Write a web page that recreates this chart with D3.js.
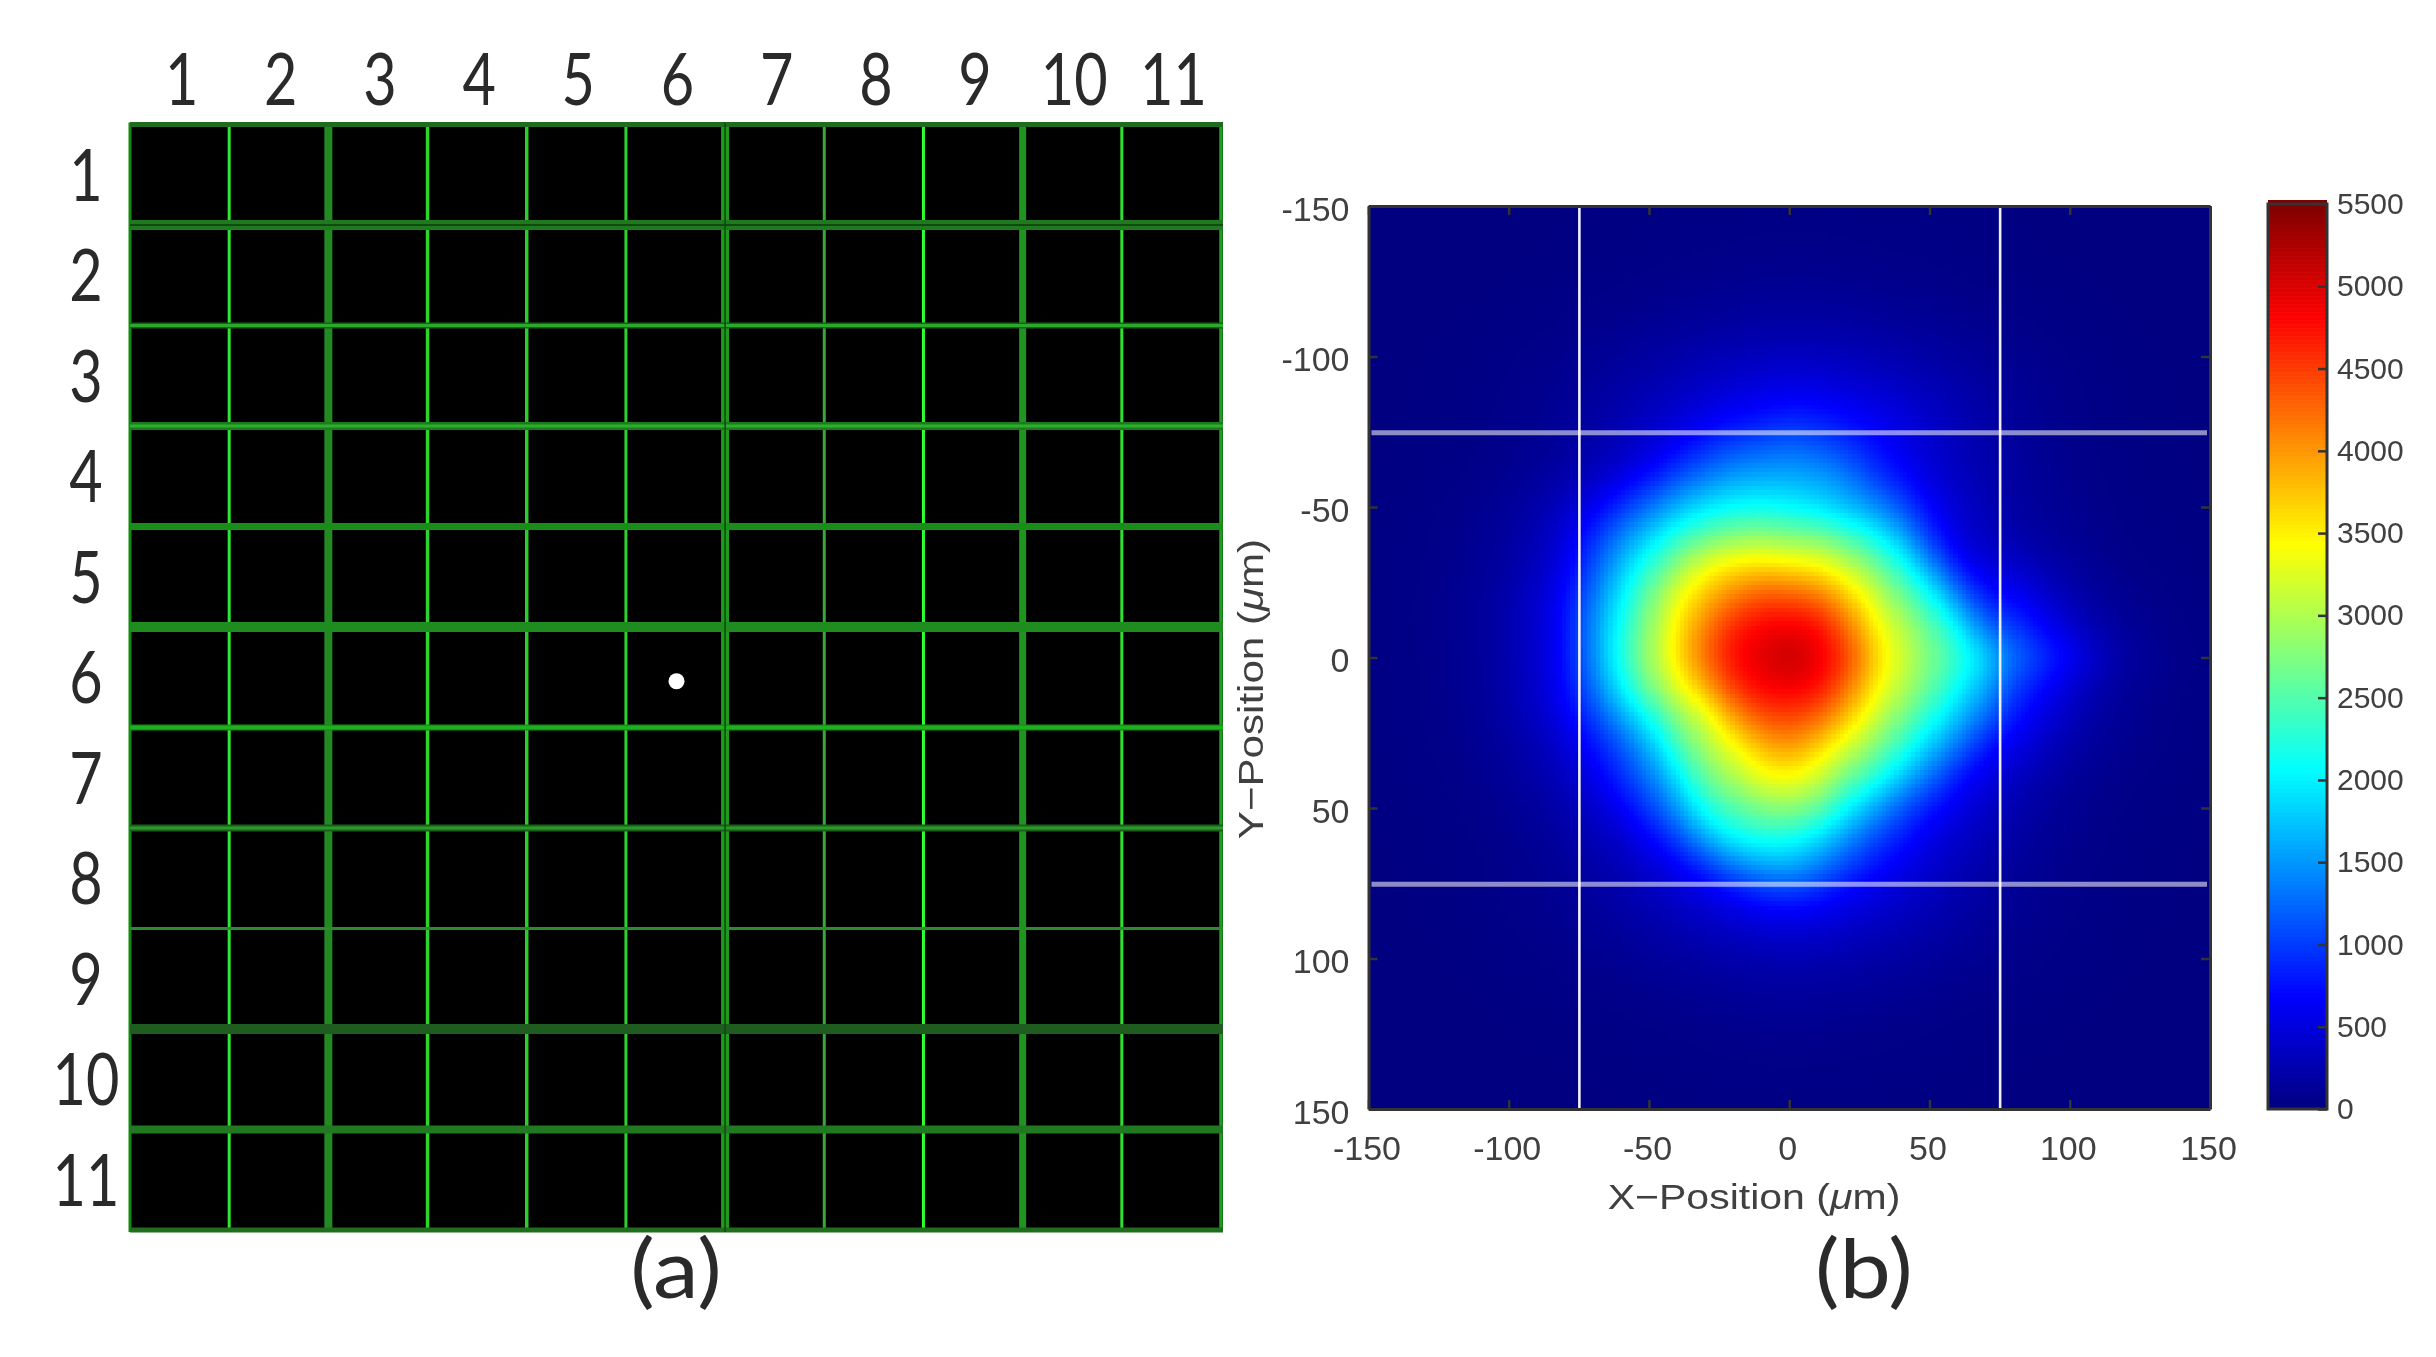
<!DOCTYPE html>
<html><head><meta charset="utf-8">
<script src="https://cdnjs.cloudflare.com/ajax/libs/d3/7.8.5/d3.min.js"></script>
<style>
html,body{margin:0;padding:0;background:#fff;width:2436px;height:1357px;overflow:hidden}
canvas,svg{position:absolute;left:0;top:0}
</style></head><body>
<canvas id="heat" width="2436" height="1357"></canvas>
<svg id="chart" width="2436" height="1357"></svg>
<script>
// ---------- data ----------
const gridColumns = [1,2,3,4,5,6,7,8,9,10,11];
const gridRows = [1,2,3,4,5,6,7,8,9,10,11];
const litFibre = {column:6, row:6};
const panelLabels = ["(a)","(b)"];
const positionTicks = [-150,-100,-50,0,50,100,150];
const colorbarTicks = [0,500,1000,1500,2000,2500,3000,3500,4000,4500,5000,5500];
const aperture = [-75,75];
const sampleStepUm = 10; // grid spacing of heatValues, -150 ... 150 µm on each axis
// intensity counts, top row Y=-150 first, each row X=-150 ... 150
const heatValues = [
[0,0,1,1,2,2,4,5,7,10,13,15,18,21,23,25,24,22,20,17,14,11,8,6,4,3,2,1,1,0,0],
[0,1,1,2,3,4,7,9,13,17,22,26,31,36,40,42,41,37,34,29,24,19,14,10,7,5,3,2,1,1,0],
[1,1,2,3,4,7,11,15,21,28,36,44,52,60,66,70,68,62,56,48,40,32,24,17,12,8,5,3,2,1,1],
[1,2,3,4,7,12,19,26,37,49,63,77,91,105,116,122,119,108,98,84,70,56,42,30,21,14,8,5,3,2,1],
[2,3,5,8,13,21,33,45,63,84,108,132,156,180,198,210,204,186,168,144,120,96,72,51,36,24,14,9,5,3,2],
[3,5,8,13,21,35,55,75,105,140,180,220,260,300,330,350,340,310,280,240,200,160,120,85,60,40,24,14,9,5,3],
[4,6,10,16,27,45,70,100,145,200,260,320,390,460,510,550,530,480,430,360,300,230,170,115,80,50,30,18,11,7,4],
[4,7,12,20,33,55,85,125,185,260,350,450,570,680,760,850,810,720,620,510,400,290,200,130,85,55,33,20,12,7,4],
[5,8,14,23,39,65,100,150,230,330,470,640,880,1060,1150,1240,1150,970,760,560,440,320,230,160,100,65,39,23,14,8,5],
[7,12,20,32,54,90,140,220,340,510,730,1080,1345,1570,1620,1630,1580,1400,1000,750,480,350,250,170,110,70,42,25,15,9,6],
[11,18,31,50,84,140,220,370,590,940,1300,1670,1930,2060,2100,2020,1900,1700,1500,1100,680,430,290,190,130,90,54,32,20,12,7],
[14,22,37,61,102,170,290,480,900,1408,1826,2300,2612,2828,2903,2790,2750,2490,2137,1700,930,480,350,240,160,110,66,40,24,14,9],
[15,25,42,68,114,190,330,560,1100,1734,2300,2850,3400,3600,3673,3592,3517,3196,2757,2250,1540,770,470,420,280,170,99,59,36,21,13],
[18,29,50,81,135,240,420,680,1297,2010,2650,3350,3800,4170,4420,4400,4262,3798,3247,2700,2200,1415,780,690,450,270,150,86,53,31,19],
[18,29,48,79,140,250,430,720,1434,2170,2823,3550,4150,4660,4862,4895,4846,4280,3547,3064,2593,2060,1250,1000,700,430,240,130,75,42,25],
[16,26,45,73,130,240,420,700,1421,2257,2914,3592,4283,4810,4980,5200,4950,4590,3745,3190,2770,2350,1880,1285,1000,680,380,190,105,55,32],
[16,26,44,72,130,240,410,680,1260,2020,2681,3295,3850,4567,4846,4880,4820,4254,3553,3046,2610,2060,1600,1000,720,430,240,130,72,42,25],
[15,25,42,68,120,220,370,590,980,1550,2080,2790,3200,3950,4388,4481,4287,3800,3190,2710,2235,1730,1245,800,520,330,180,105,60,34,21],
[13,21,36,59,99,165,270,430,730,1100,1640,2350,2976,3350,3800,4000,3700,3233,2774,2310,1730,1280,750,560,360,220,126,76,46,27,17],
[11,18,30,49,81,135,220,340,560,900,1300,1900,2623,2978,3350,3450,3200,2670,2270,1740,1280,770,530,350,230,145,87,52,32,19,12],
[8,12,21,34,57,95,155,250,390,620,1000,1500,2226,2500,2750,2850,2650,2060,1600,1140,780,560,380,250,160,100,60,36,22,13,8],
[6,10,17,27,45,75,115,180,280,410,640,1000,1600,2060,2190,2150,1900,1500,1060,800,540,400,290,190,125,80,48,29,18,10,6],
[5,8,13,22,36,60,90,135,200,290,430,600,860,1270,1500,1600,1350,1000,760,560,430,310,210,140,90,60,36,22,13,8,5],
[4,6,11,17,29,48,70,105,155,220,300,390,490,610,790,840,760,600,500,400,320,230,165,110,75,50,30,18,11,7,4],
[3,5,8,14,23,38,55,78,110,155,205,260,320,380,430,460,440,390,340,280,230,175,125,85,60,40,24,14,9,5,3],
[2,4,6,10,17,28,40,55,75,100,130,160,195,225,255,270,260,235,205,175,145,110,85,60,45,30,18,11,7,4,2],
[1,2,4,6,10,17,24,33,45,60,78,96,117,135,153,162,156,141,123,105,87,66,51,36,27,18,11,6,4,2,1],
[1,1,2,4,6,10,14,19,26,35,46,56,68,79,89,95,91,82,72,61,51,39,30,21,16,11,6,4,2,1,1],
[0,1,1,2,4,6,8,11,15,20,26,32,39,45,51,54,52,47,41,35,29,22,17,12,9,6,4,2,1,1,0],
[0,0,1,1,2,3,5,7,9,12,16,19,23,27,31,32,31,28,25,21,17,13,10,7,5,4,2,1,1,0,0],
[0,0,0,1,1,2,3,4,5,7,9,11,14,16,18,19,18,16,14,12,10,8,6,4,3,2,1,1,0,0,0]
];

// ---------- layout and styling ----------
const svg = d3.select("#chart");
const gridX = d3.scaleLinear().domain([0,11]).range([130,1221]);
const gridY = d3.scaleLinear().domain([0,11]).range([124.5,1230]);

// look of each grid line (index = line number): width, colour, core width, core colour
const vStyle = [
 [3,"#128a12"],[3,"#30e630"],[8,"#238a23"],[3.5,"#2cd42c"],[3.5,"#2ccc2c"],[3,"#2fd02f"],
 [8,"#1f9a1f",1.5,"#0a4a0a"],[3,"#38a838"],[3,"#2eff2e"],[7,"#1f951f"],[3,"#30e030"],[3.5,"#1f9f1f"]];
const hStyle = [
 [5,"#1f6b1f"],[10,"#1f7a1f",2,"#104a10"],[6,"#1b5f1b",3,"#2aaa2a"],[8,"#1f7a1f",3,"#2ab02a"],[7,"#1a8c1a"],[10,"#1e8c1e"],
 [6,"#1e8c1e",3,"#1fb01f"],[7,"#1b5f1b",3,"#2a9a2a"],[3,"#2e8a2e"],[10,"#1f5c1f"],[8,"#217a21"],[5,"#1e6e1e"]];

const panelA = svg.append("g");
panelA.append("rect")
  .attr("x",gridX(0)).attr("y",gridY(0)-2)
  .attr("width",gridX(11)-gridX(0)+2).attr("height",gridY(11)-gridY(0)+4)
  .attr("fill","#000");
const vIdx = d3.range(0,12);
panelA.selectAll("line.v").data(vIdx).join("line").attr("class","v")
  .attr("x1",i=>gridX(i)).attr("x2",i=>gridX(i))
  .attr("y1",gridY(0)-2).attr("y2",gridY(11)+2)
  .attr("stroke",i=>vStyle[i][1]).attr("stroke-width",i=>vStyle[i][0]);
panelA.selectAll("line.h").data(vIdx).join("line").attr("class","h")
  .attr("x1",gridX(0)).attr("x2",gridX(11)+2)
  .attr("y1",i=>gridY(i)).attr("y2",i=>gridY(i))
  .attr("stroke",i=>hStyle[i][1]).attr("stroke-width",i=>hStyle[i][0]);
panelA.selectAll("line.hc").data(vIdx.filter(i=>hStyle[i][2])).join("line").attr("class","hc")
  .attr("x1",gridX(0)).attr("x2",gridX(11)+2)
  .attr("y1",i=>gridY(i)).attr("y2",i=>gridY(i))
  .attr("stroke",i=>hStyle[i][3]).attr("stroke-width",i=>hStyle[i][2]);
panelA.selectAll("line.vc").data(vIdx.filter(i=>vStyle[i][2])).join("line").attr("class","vc")
  .attr("x1",i=>gridX(i)).attr("x2",i=>gridX(i))
  .attr("y1",gridY(0)-2).attr("y2",gridY(11)+2)
  .attr("stroke",i=>vStyle[i][3]).attr("stroke-width",i=>vStyle[i][2]);

const bigFont = "Lato,'Liberation Sans',sans-serif";
function bigText(sel,size){
  sel.attr("text-anchor","middle").attr("font-family",bigFont).attr("font-weight",400)
     .attr("font-size",size).attr("fill","#2a2a2a");
}
panelA.selectAll("text.col").data(gridColumns).join("text").attr("class","col")
  .attr("transform",d=>`translate(${gridX(d-0.5)+2},105) scale(0.8,1)`)
  .call(bigText,72).text(d=>d);
panelA.selectAll("text.row").data(gridRows).join("text").attr("class","row")
  .attr("transform",d=>`translate(86,${gridY(d-0.5)+26}) scale(0.8,1)`)
  .call(bigText,72).text(d=>d);
panelA.append("circle")
  .attr("cx",gridX(litFibre.column-0.5)+1).attr("cy",gridY(litFibre.row-0.5)+4).attr("r",8).attr("fill","#fff");

svg.append("text").attr("transform","translate(676,1298) scale(1.12,1)").call(bigText,82).text(panelLabels[0]);
svg.append("text").attr("transform","translate(1864,1298) scale(1.12,1)").call(bigText,82).text(panelLabels[1]);

// ---------- heat map ----------
const x = d3.scaleLinear().domain([-150,150]).range([1368.5,2210]);
const y = d3.scaleLinear().domain([-150,150]).range([206,1109]);
const jet = d3.scaleLinear()
  .domain([0,0.125,0.375,0.625,0.875,1].map(f=>f*5500))
  .range(["#000080","#0000ff","#00ffff","#ffff00","#ff0000","#800000"])
  .clamp(true);

function bspline(p0,p1,p2,p3,t){
  const t2=t*t,t3=t2*t;
  return ((1-3*t+3*t2-t3)*p0+(4-6*t2+3*t3)*p1+(1+3*t+3*t2-3*t3)*p2+t3*p3)/6;
}
function sample(X,Y){
  const n = heatValues.length;
  const fx=(X+150)/sampleStepUm, fy=(Y+150)/sampleStepUm;
  const ix=Math.min(n-2,Math.floor(fx)), iy=Math.min(n-2,Math.floor(fy));
  const tx=fx-ix, ty=fy-iy, c=v=>Math.max(0,Math.min(n-1,v));
  const col=[-1,0,1,2].map(dy=>{
    const r=heatValues[c(iy+dy)];
    return bspline(r[c(ix-1)],r[c(ix)],r[c(ix+1)],r[c(ix+2)],tx);
  });
  return bspline(col[0],col[1],col[2],col[3],ty);
}
const ctx = document.getElementById("heat").getContext("2d");
const step = 1.5;
for(let Y=-150;Y<150;Y+=step){
  for(let X=-150;X<150;X+=step){
    const v=Math.max(0,sample(X+step/2,Y+step/2));
    ctx.fillStyle=jet(v);
    const x0=Math.round(x(X)),x1=Math.round(x(Math.min(150,X+step)));
    const y0=Math.round(y(Y)),y1=Math.round(y(Math.min(150,Y+step)));
    ctx.fillRect(x0,y0,x1-x0,y1-y0);
  }
}

// aperture lines
const panelB = svg.append("g");
panelB.selectAll("line.ax").data(aperture).join("line").attr("class","ax")
  .attr("x1",d=>x(d)+0.5).attr("x2",d=>x(d)+0.5).attr("y1",y(-150)).attr("y2",y(150))
  .attr("stroke","#f0f0f8").attr("stroke-width",2.6);
panelB.selectAll("line.ay").data(aperture).join("line").attr("class","ay")
  .attr("y1",d=>y(d)+1).attr("y2",d=>y(d)+1).attr("x1",x(-150)+3).attr("x2",x(150)-3)
  .attr("stroke","#ffffff").attr("stroke-opacity",0.55).attr("stroke-width",5);

// axes
const axisFont = "'Liberation Sans',Arial,sans-serif";
function styleAxis(g){
  g.selectAll("path.domain").attr("stroke","#333").attr("stroke-width",3);
  g.selectAll(".tick line").attr("stroke","#333").attr("stroke-width",2.5);
  g.selectAll("text").attr("font-family",axisFont).attr("font-size",34).attr("fill","#404040");
}
const fmt = d=>String(d);
panelB.append("g").attr("transform",`translate(0,${y(150)})`)
  .call(d3.axisBottom(x).tickValues(positionTicks).tickFormat(fmt).tickSizeInner(-9).tickSizeOuter(0).tickPadding(27))
  .call(styleAxis)
  .call(g=>g.selectAll("text").attr("dx",-2));
panelB.append("g").attr("transform",`translate(${x(-150)},0)`)
  .call(d3.axisLeft(y).tickValues(positionTicks).tickFormat(fmt).tickSizeInner(-9).tickSizeOuter(0).tickPadding(19))
  .call(styleAxis)
  .call(g=>g.selectAll("text").attr("dy","0.42em"));
panelB.append("g").attr("transform",`translate(0,${y(-150)})`)
  .call(d3.axisTop(x).tickValues(positionTicks).tickFormat("").tickSizeInner(-9).tickSizeOuter(0))
  .call(styleAxis);
panelB.append("g").attr("transform",`translate(${x(150)},0)`)
  .call(d3.axisRight(y).tickValues(positionTicks).tickFormat("").tickSizeInner(-9).tickSizeOuter(0))
  .call(styleAxis);

function axisTitle(sel,a){
  sel.attr("font-family",axisFont).attr("font-size",36).attr("fill","#404040").attr("text-anchor","middle");
  sel.append("tspan").text(a+"\u2212Position (");
  sel.append("tspan").attr("font-style","italic").text("\u03bc");
  sel.append("tspan").text("m)");
}
svg.append("text").attr("transform","translate(1754,1209) scale(1.14,1)").call(axisTitle,"X");
svg.append("text").attr("transform","translate(1263,689) rotate(-90) scale(1.17,1)").call(axisTitle,"Y");

// colour bar
const cbarY = d3.scaleLinear().domain([0,5500]).range([1109,204]);
const cbarX0 = 2268, cbarX1 = 2327;
const cbarSteps = d3.range(0,5500,5500/226);
svg.append("g").selectAll("rect").data(cbarSteps).join("rect")
  .attr("x",cbarX0).attr("width",cbarX1-cbarX0)
  .attr("y",d=>cbarY(d+5500/226)).attr("height",d=>cbarY(d)-cbarY(d+5500/226)+0.6)
  .attr("fill",d=>jet(d+5500/452));
svg.append("rect").attr("x",cbarX0).attr("y",204).attr("width",cbarX1-cbarX0).attr("height",905)
  .attr("fill","none").attr("stroke","#333").attr("stroke-width",3);
svg.append("g").attr("transform",`translate(${cbarX1},0)`)
  .call(d3.axisRight(cbarY).tickValues(colorbarTicks).tickFormat(fmt).tickSizeInner(-9).tickSizeOuter(0).tickPadding(10))
  .call(g=>{styleAxis(g);g.select("path.domain").remove();g.selectAll("text").attr("font-size",30);});
</script>
</body></html>
